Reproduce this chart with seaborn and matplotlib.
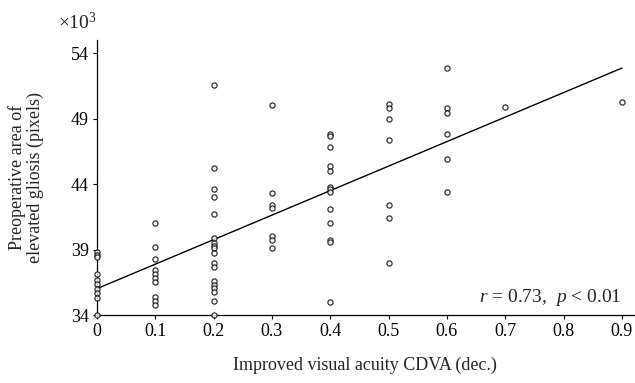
import numpy as np
import pandas as pd
import matplotlib
matplotlib.use("Agg")
import matplotlib.pyplot as plt
import seaborn as sns

# ---- data ----
x_levels = [0.0, 0.1, 0.2, 0.3, 0.4, 0.5, 0.6, 0.7, 0.9]
area_x00 = [38.8, 38.6, 38.4, 37.1, 36.7, 36.4, 36.0, 35.7, 35.3, 34.0]
area_x01 = [41.0, 39.2, 38.3, 37.4, 37.1, 36.8, 36.5, 35.4, 35.1, 34.8]
area_x02 = [51.6, 45.2, 43.6, 43.0, 41.7, 39.9, 39.5, 39.25, 39.1, 38.7,
            37.95, 37.65, 36.6, 36.3, 36.05, 35.75, 35.1, 34.0]
area_x03 = [50.0, 43.3, 42.4, 42.2, 40.0, 39.7, 39.1]
area_x04 = [47.8, 47.7, 46.8, 45.4, 45.0, 43.8, 43.6, 43.4, 42.1, 41.0, 39.7, 39.6, 35.0]
area_x05 = [50.1, 49.8, 49.0, 47.4, 42.4, 41.4, 38.0]
area_x06 = [52.9, 49.8, 49.4, 47.8, 45.9, 43.4]
area_x07 = [49.9]
area_x09 = [50.3]
groups = [area_x00, area_x01, area_x02, area_x03, area_x04,
          area_x05, area_x06, area_x07, area_x09]

y_ticks = [34, 39, 44, 49, 54]
x_ticks = [0, 0.1, 0.2, 0.3, 0.4, 0.5, 0.6, 0.7, 0.8, 0.9]
x_ticklabels = ["0", "0.1", "0.2", "0.3", "0.4", "0.5", "0.6", "0.7", "0.8", "0.9"]
stat_text = r"$r$ = 0.73,  $p$ < 0.01"

rows = []
for xv, g in zip(x_levels, groups):
    for v in g:
        rows.append((xv, v))
df = pd.DataFrame(rows, columns=["cdva", "area"])

sns.set_theme(style="ticks")
plt.rcParams["font.family"] = ["Liberation Serif", "DejaVu Serif"]
plt.rcParams["mathtext.fontset"] = "custom"
plt.rcParams["mathtext.rm"] = "Liberation Serif"
plt.rcParams["mathtext.it"] = "Liberation Serif:italic"

fig = plt.figure(figsize=(6.35, 3.83), dpi=100)
ax = fig.add_axes([0.1528, 0.1775, 0.845, 0.718])

sns.regplot(data=df, x="cdva", y="area", ax=ax, ci=None, truncate=True,
            scatter_kws=dict(s=14, facecolors="white", edgecolors="black",
                             linewidths=0.9, zorder=3, clip_on=False),
            line_kws=dict(color="black", linewidth=1.0, zorder=2))

ax.set_xlim(0, 0.92)
ax.set_ylim(34, 55)
ax.set_xticks(x_ticks)
ax.set_xticklabels(x_ticklabels)
ax.set_yticks(y_ticks)
ax.tick_params(axis="both", direction="out", length=3, width=0.8,
               labelsize=13, colors="black", pad=3)
for s in ["top", "right"]:
    ax.spines[s].set_visible(False)
for s in ["left", "bottom"]:
    ax.spines[s].set_color("black")
    ax.spines[s].set_linewidth(0.9)

ax.set_xlabel("Improved visual acuity CDVA (dec.)", fontsize=13, labelpad=12)
ax.set_ylabel("Preoperative area of\nelevated gliosis (pixels)", fontsize=13,
              labelpad=19, linespacing=1.05)
ax.text(0.0, 1.025, r"$\times 10^3$", transform=ax.transAxes, ha="right",
        va="bottom", fontsize=14)
ax.text(0.9, 35.3, stat_text, ha="right", va="center", fontsize=14)

fig.savefig("out.png", dpi=100)
